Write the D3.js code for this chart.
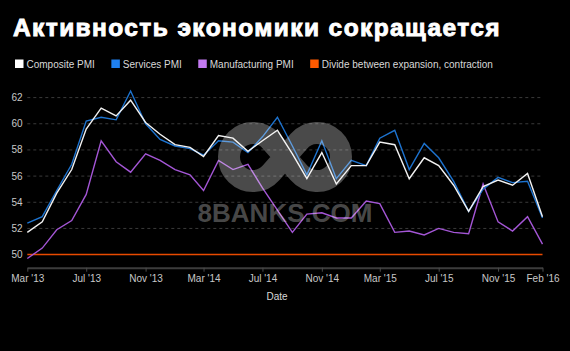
<!DOCTYPE html>
<html><head><meta charset="utf-8">
<script src="https://cdn.jsdelivr.net/npm/d3@7/dist/d3.min.js"></script>
<style>
html,body{margin:0;padding:0;background:#000;}
svg{display:block;}
text{font-family:"Liberation Sans",Arial,sans-serif;}
</style></head>
<body>
<svg id="chart" width="570" height="351"></svg>
<script>
const title = "Активность экономики сокращается";
const months = ["2013-03","2013-04","2013-05","2013-06","2013-07","2013-08","2013-09","2013-10","2013-11","2013-12",
"2014-01","2014-02","2014-03","2014-04","2014-05","2014-06","2014-07","2014-08","2014-09","2014-10","2014-11","2014-12",
"2015-01","2015-02","2015-03","2015-04","2015-05","2015-06","2015-07","2015-08","2015-09","2015-10","2015-11","2015-12",
"2016-01","2016-02"];
const composite = [51.7,52.5,54.7,56.5,59.6,61.2,60.6,61.8,60.1,59.2,58.4,58.2,57.5,59.1,58.9,57.9,58.7,59.5,57.7,55.8,57.8,55.4,56.8,56.8,58.6,58.4,55.8,57.4,56.8,55.3,53.3,55.2,55.7,55.3,56.2,52.9];
const services  = [52.4,52.9,54.9,56.9,60.2,60.5,60.3,62.5,60.0,58.8,58.3,58.1,57.6,58.7,58.6,57.8,59.0,60.5,58.3,56.1,58.7,55.8,57.2,56.8,58.9,59.5,56.5,58.5,57.4,55.6,53.3,55.0,55.9,55.5,55.6,52.8];
const manufacturing = [49.7,50.5,51.9,52.6,54.6,58.7,57.1,56.3,57.7,57.2,56.5,56.1,54.9,57.2,56.5,56.9,55.1,53.4,51.7,53.1,53.2,52.8,52.8,54.1,53.9,51.7,51.8,51.5,52.0,51.7,51.6,55.4,52.5,51.8,52.9,50.8];
const divideLevel = 50;
const yTicks = [50,52,54,56,58,60,62];
const xTickMonths = ["2013-03","2013-07","2013-11","2014-03","2014-07","2014-11","2015-03","2015-07","2015-11","2016-02"];
const xTickLabels = ["Mar '13","Jul '13","Nov '13","Mar '14","Jul '14","Nov '14","Mar '15","Jul '15","Nov '15","Feb '16"];
const seriesNames = ["Composite PMI","Services PMI","Manufacturing PMI","Divide between expansion, contraction"];
const seriesColors = ["#f2f2f2","#1d73cf","#a456d6","#e84a00"];
const legendColors = ["#ffffff","#1f80f0","#c47af2","#ff5a00"];

const parse = d3.timeParse("%Y-%m");
const dates = months.map(parse);
const svg = d3.select("#chart");
const W = 570, H = 351;
svg.append("rect").attr("width",W).attr("height",H).attr("fill","#000");

const x = d3.scaleTime().domain([dates[0], dates[dates.length-1]]).range([27.3, 542.5]);
const y = d3.scaleLinear().domain([49, 63]).range([267.7, 84.5]);

// title
svg.append("text").attr("x",13).attr("y",36).attr("fill","#fff")
  .attr("font-size",24.5).attr("font-weight","bold").attr("letter-spacing",1.4)
  .attr("stroke","#fff").attr("stroke-width",0.9).text(title);

// legend
let lx = 15;
seriesNames.forEach((n,i)=>{
  svg.append("rect").attr("x",lx).attr("y",59.5).attr("width",8.5).attr("height",8.5).attr("fill",legendColors[i]);
  const t = svg.append("text").attr("x",lx+11.5).attr("y",68.3).attr("fill","#d8d8d8").attr("font-size",10).text(n);
  lx += 11.5 + t.node().getComputedTextLength() + 16.5;
});

// gridlines
svg.append("g").selectAll("line").data(yTicks.filter(v=>v!==divideLevel)).join("line")
  .attr("x1",x.range()[0]).attr("x2",x.range()[1])
  .attr("y1",d=>y(d)).attr("y2",d=>y(d))
  .attr("stroke","#3a3a3a").attr("stroke-width",1).attr("stroke-dasharray","3,3");

// y labels
svg.append("g").selectAll("text").data(yTicks).join("text")
  .attr("x",22.7).attr("y",d=>y(d)+3.5).attr("text-anchor","end")
  .attr("fill","#c8c8c8").attr("font-size",10).text(d=>d);

// x axis
const xAxis = d3.axisBottom(x).tickValues(xTickMonths.map(parse))
  .tickFormat((d,i)=>xTickLabels[i]).tickSize(4).tickSizeOuter(0).tickPadding(3);
const gx = svg.append("g").attr("transform",`translate(0,${y.range()[0]})`).call(xAxis);
gx.select(".domain").attr("stroke","#3c3c3c").attr("stroke-width",2);
gx.selectAll(".tick line").attr("stroke","#4a4a4a");
gx.selectAll(".tick text").attr("fill","#c8c8c8").attr("font-size",10)
  .attr("font-family","Liberation Sans, Arial, sans-serif");

svg.append("text").attr("x",277).attr("y",300).attr("text-anchor","middle")
  .attr("fill","#d8d8d8").attr("font-size",10).text("Date");

// divide line
svg.append("line").attr("x1",x.range()[0]).attr("x2",x.range()[1])
  .attr("y1",y(divideLevel)).attr("y2",y(divideLevel))
  .attr("stroke",seriesColors[3]).attr("stroke-width",1.5);

const line = d3.line().x((d,i)=>x(dates[i])).y(d=>y(d));
[manufacturing, services, composite].forEach((s,j)=>{
  const ci = [2,1,0][j];
  svg.append("path").attr("d",line(s)).attr("fill","none")
    .attr("stroke",seriesColors[ci]).attr("stroke-width",1.4).attr("stroke-linejoin","miter");
});

// watermark
const wm = svg.append("g");
const cx = 285, cy = 157, r = 24, d = 32;
const L = Math.sqrt(d*d - r*r), ca = L/d, sa = r/d;
const tx = L*ca, ty = L*sa;
const p = `M ${cx-tx} ${cy+ty} L ${cx+tx} ${cy-ty} A ${r} ${r} 0 1 1 ${cx+tx} ${cy+ty} L ${cx-tx} ${cy-ty} A ${r} ${r} 0 1 0 ${cx-tx} ${cy+ty} Z`;
wm.append("path").attr("d",p).attr("fill","none").attr("stroke","rgba(255,255,255,0.29)").attr("stroke-width",22);
wm.append("text").attr("x",285).attr("y",222).attr("text-anchor","middle")
  .attr("font-size",26).attr("font-weight","bold").attr("fill","rgba(255,255,255,0.29)").text("8BANKS.COM");
</script>
</body></html>
